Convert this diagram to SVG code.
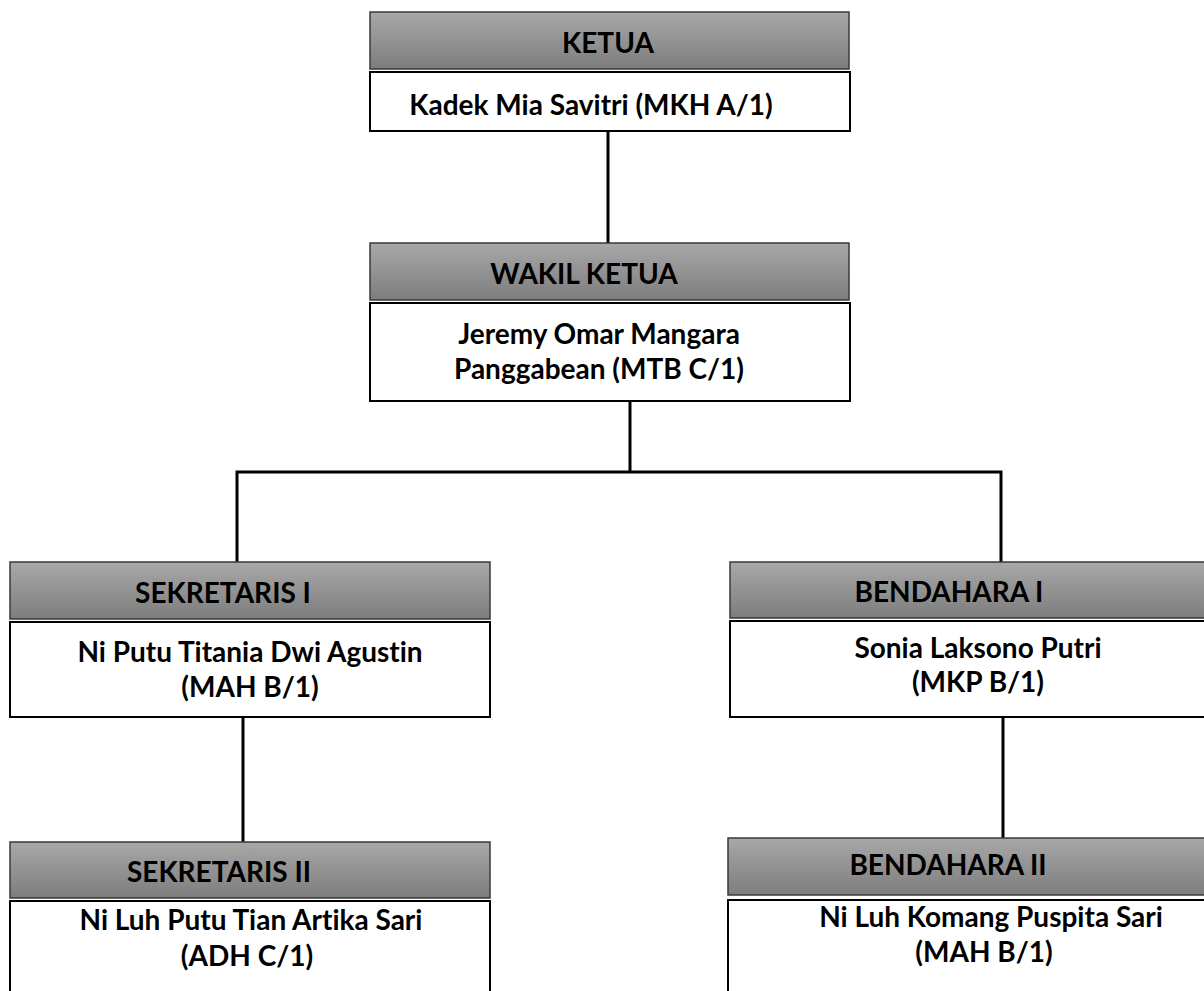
<svg xmlns="http://www.w3.org/2000/svg" width="1204" height="991" viewBox="0 0 1204 991">
<defs>
<linearGradient id="hg" x1="0" y1="0" x2="0" y2="1">
<stop offset="0" stop-color="#a8a8a8"/>
<stop offset="1" stop-color="#7d7d7d"/>
</linearGradient>
<style>
.hd{fill:url(#hg);stroke:#3a3a3a;stroke-width:1.5}
.nm{fill:#fff;stroke:#000;stroke-width:2}
text{font-family:Lato,"Liberation Sans",sans-serif;font-weight:bold;font-size:28px;fill:#000;text-anchor:middle;font-variant-ligatures:none;font-feature-settings:"liga" 0}
.cn{fill:none;stroke:#000;stroke-width:3}
</style>
</defs>
<rect width="1204" height="991" fill="#fff"/>
<g id="connectors">
<line class="cn" x1="608" y1="131" x2="608" y2="243"/>
<polyline class="cn" points="630,401 630,472"/>
<polyline class="cn" points="237,562 237,472 1001,472 1001,562"/>
<line class="cn" x1="243" y1="717" x2="243" y2="842"/>
<line class="cn" x1="1003" y1="717" x2="1003" y2="838"/>
</g>
<g id="ketua">
<rect class="hd" x="370" y="12" width="479" height="57"/>
<rect class="nm" x="370" y="72" width="480" height="59"/>
<text x="608" y="53">KETUA</text>
<text x="591" y="115">Kadek Mia Savitri (MKH A/1)</text>
</g>
<g id="wakil">
<rect class="hd" x="370" y="243" width="479" height="57"/>
<rect class="nm" x="370" y="303" width="480" height="98"/>
<text x="584" y="284">WAKIL KETUA</text>
<text x="599" y="344">Jeremy Omar Mangara</text>
<text x="599" y="379">Panggabean (MTB C/1)</text>
</g>
<g id="sekretaris1">
<rect class="hd" x="10" y="562" width="480" height="57"/>
<rect class="nm" x="10" y="622" width="480" height="95"/>
<text x="223" y="603">SEKRETARIS I</text>
<text x="250" y="662">Ni Putu Titania Dwi Agustin</text>
<text x="250" y="697">(MAH B/1)</text>
</g>
<g id="bendahara1">
<rect class="hd" x="730" y="562" width="480" height="56"/>
<rect class="nm" x="730" y="621" width="480" height="96"/>
<text x="949" y="602">BENDAHARA I</text>
<text x="978" y="658">Sonia Laksono Putri</text>
<text x="978" y="692">(MKP B/1)</text>
</g>
<g id="sekretaris2">
<rect class="hd" x="10" y="842" width="480" height="56"/>
<rect class="nm" x="10" y="901" width="480" height="100"/>
<text x="219" y="882">SEKRETARIS II</text>
<text x="251" y="930">Ni Luh Putu Tian Artika Sari</text>
<text x="247" y="966">(ADH C/1)</text>
</g>
<g id="bendahara2">
<rect class="hd" x="728" y="838" width="482" height="57"/>
<rect class="nm" x="728" y="900" width="482" height="101"/>
<text x="948" y="875">BENDAHARA II</text>
<text x="991" y="927">Ni Luh Komang Puspita Sari</text>
<text x="984" y="962">(MAH B/1)</text>
</g>
</svg>
